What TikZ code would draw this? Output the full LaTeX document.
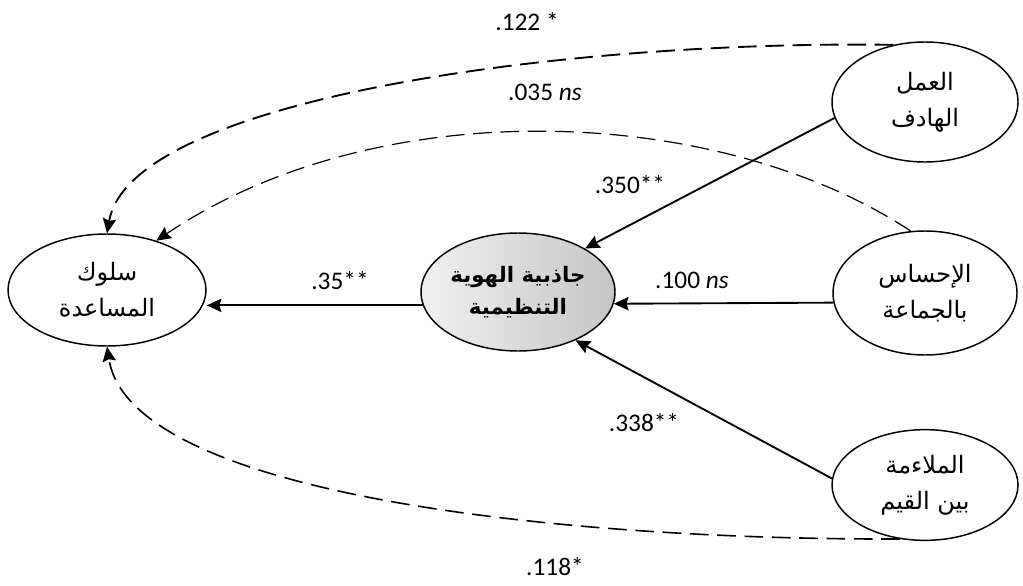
\documentclass[tikz,border=0pt]{standalone}
\usepackage{fontspec}
\setmainfont{Carlito}
\newfontfamily\arabicfont[Script=Arabic]{DejaVu Sans}
\TeXXeTstate=1
\usetikzlibrary{shapes.geometric,arrows.meta}
\newcommand{\ltr}[1]{\beginL #1\endL}
\begin{document}
\begin{tikzpicture}[x=0.75pt,y=-0.75pt,
  oval/.style={ellipse,draw,line width=1.1pt,inner sep=0pt,align=center,
    font=\arabicfont\fontsize{18}{27}\selectfont},
  lbl/.style={font=\fontsize{19}{23}\selectfont,inner sep=1pt},
  tip/.style={-{Stealth[length=11pt,width=10pt,inset=1.5pt]}},
  solidarrow/.style={tip,line width=1.4pt},
  dasharrow/.style={tip,dash pattern=on 14pt off 6.5pt}]
\useasboundingbox (0,0) rectangle (1023,585);
% nodes
\node[oval,minimum width=139.5pt,minimum height=90pt] (w) at (925,102)
  {\beginR العمل\endR\\\beginR الهادف\endR};
\node[oval,minimum width=138pt,minimum height=93pt] (h) at (925,293)
  {\beginR الإحساس\endR\\\beginR بالجماعة\endR};
\node[oval,minimum width=139.5pt,minimum height=83pt] (b) at (925,485)
  {\beginR الملاءمة\endR\\\beginR بين القيم\endR};
\node[oval,minimum width=148.5pt,minimum height=84pt] (s) at (107,290)
  {\beginR سلوك\endR\\\beginR المساعدة\endR};
\node[oval,minimum width=145.5pt,minimum height=88.5pt,
  left color=gray!12,right color=gray!45,
  font=\arabicfont\bfseries\fontsize{16}{24}\selectfont] (c) at (518,292)
  {\beginR جاذبية الهوية\endR\\\beginR التنظيمية\endR};
% solid paths
\draw[solidarrow] (w.190) -- (c.33);
\draw[solidarrow] (h.186) -- (c.-7);
\draw[solidarrow] (b.176) -- (c.-40);
\draw[solidarrow] (c.188) -- (c.188 -| s.east);
% dashed paths
\draw[dasharrow,line width=1.4pt] (w.119) .. controls (560,40) and (130,100) .. (s.north);
\draw[dasharrow,line width=0.9pt] (h.103) .. controls (720,105) and (380,90) .. (s.45);
\draw[dasharrow,line width=1.2pt] (b.-115) .. controls (560,540) and (130,495) .. (s.south);
% labels
\node[lbl] (l122) at (527,22) {\ltr{.122 *}};
\node[lbl] (l035) at (545,92) {\ltr{.035 \textit{ns}}};
\node[lbl] (l350) at (630,185) {\ltr{.350**}};
\node[lbl] (l100) at (692,280) {\ltr{.100 \textit{ns}}};
\node[lbl] (l35) at (340,281) {\ltr{.35**}};
\node[lbl] (l338) at (644,423) {\ltr{.338**}};
\node[lbl] (l118) at (555,567) {\ltr{.118*}};
\end{tikzpicture}
\end{document}
